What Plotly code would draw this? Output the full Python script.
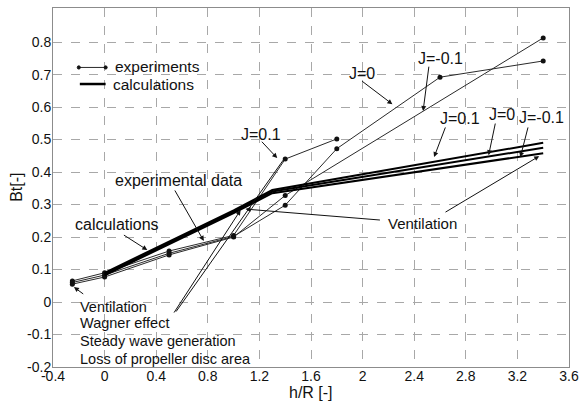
import plotly.graph_objects as go

# Experimental thrust-loss ratio Bt versus immersion h/R, one series per advance ratio J
exp_x_j01 = [-0.25, 0.0, 0.5, 1.0, 1.4, 1.8]
exp_y_j01 = [0.065, 0.090, 0.157, 0.205, 0.440, 0.502]

exp_x_j0 = [-0.25, 0.0, 0.5, 1.0, 1.4, 1.8, 2.6, 3.4]
exp_y_j0 = [0.060, 0.083, 0.150, 0.202, 0.298, 0.472, 0.692, 0.742]

exp_x_jm01 = [-0.25, 0.0, 0.5, 1.0, 1.4, 3.4]
exp_y_jm01 = [0.055, 0.077, 0.145, 0.200, 0.328, 0.813]

# Calculated curves
calc_x = [0.0, 0.5, 1.0, 1.3, 3.4]
calc_y_j01 = [0.090, 0.186, 0.282, 0.345, 0.490]
calc_y_j0 = [0.086, 0.182, 0.278, 0.340, 0.475]
calc_y_jm01 = [0.082, 0.178, 0.274, 0.335, 0.458]

x_ticks = [-0.4, 0, 0.4, 0.8, 1.2, 1.6, 2, 2.4, 2.8, 3.2, 3.6]
x_tick_labels = ["-0.4", "0", "0.4", "0.8", "1.2", "1.6", "2", "2.4", "2.8", "3.2", "3.6"]
y_ticks = [-0.2, -0.1, 0, 0.1, 0.2, 0.3, 0.4, 0.5, 0.6, 0.7, 0.8]
y_tick_labels = ["-0.2", "-0.1", "0", "0.1", "0.2", "0.3", "0.4", "0.5", "0.6", "0.7", "0.8"]

FONT = "Arial, Liberation Sans, sans-serif"
TXT = "#111111"

fig = go.Figure()

for xs, ys in [(exp_x_j01, exp_y_j01), (exp_x_j0, exp_y_j0), (exp_x_jm01, exp_y_jm01)]:
    fig.add_trace(go.Scatter(
        x=xs, y=ys, mode="lines+markers",
        line=dict(color="#2a2a2a", width=1),
        marker=dict(color="#111111", size=5),
        showlegend=False, cliponaxis=False,
    ))

for ys in [calc_y_j01, calc_y_j0, calc_y_jm01]:
    fig.add_trace(go.Scatter(
        x=calc_x, y=ys, mode="lines",
        line=dict(color="#000000", width=2),
        showlegend=False,
    ))

# Legend key drawn inside the axes
fig.add_shape(type="line", x0=-0.2, x1=0.008, y0=0.722, y1=0.722,
              line=dict(color="#2a2a2a", width=1))
for cx in (-0.2, 0.008):
    fig.add_shape(type="circle", x0=cx - 0.012, x1=cx + 0.012, y0=0.722 - 0.005, y1=0.722 + 0.005,
                  fillcolor="#111111", line=dict(color="#111111", width=1))
fig.add_shape(type="line", x0=-0.192, x1=0.008, y0=0.671, y1=0.671,
              line=dict(color="#000000", width=2.5))

annotations = []


def label(text, x, y, size=16, xanchor="center"):
    annotations.append(dict(text=text, x=x, y=y, xref="x", yref="y", showarrow=False,
                            xanchor=xanchor, yanchor="middle",
                            font=dict(family=FONT, size=size, color=TXT)))


def pointer(tail, head, head_style=2):
    annotations.append(dict(text="", x=head[0], y=head[1], ax=tail[0], ay=tail[1],
                            xref="x", yref="y", axref="x", ayref="y",
                            showarrow=True, arrowhead=head_style, arrowsize=1.0,
                            arrowwidth=1, arrowcolor="#111111", standoff=0, startstandoff=0))


label("experiments", 0.062, 0.724, size=15.5, xanchor="left")
label("calculations", 0.046, 0.669, size=15.5, xanchor="left")

label("experimental data", 0.569, 0.375)
pointer((0.538, 0.348), (0.769, 0.188))
label("calculations", 0.096, 0.24)
pointer((0.138, 0.209), (0.331, 0.160))

label("J=0.1", 1.212, 0.517)
pointer((1.208, 0.498), (1.338, 0.443))
label("J=0", 1.992, 0.703)
pointer((1.985, 0.683), (2.231, 0.609))
label("J=-0.1", 2.60, 0.749)
pointer((2.515, 0.729), (2.469, 0.588))

label("J=0.1", 2.754, 0.565)
pointer((2.646, 0.542), (2.554, 0.446))
label("J=0", 3.077, 0.578)
pointer((3.031, 0.554), (2.977, 0.452))
label("J=-0.1", 3.385, 0.567)
pointer((3.285, 0.542), (3.223, 0.446))

label("Ventilation", 2.462, 0.243, size=15)
pointer((2.146, 0.252), (1.092, 0.286))
pointer((2.631, 0.274), (3.369, 0.449))

for text, yy in [("Ventilation", -0.015), ("Wagner effect", -0.066),
                 ("Steady wave generation", -0.120), ("Loss of propeller disc area", -0.174)]:
    label(text, -0.208, yy, size=14.5, xanchor="left")
pointer((-0.154, 0.0215), (-0.238, 0.046))
pointer((0.531, -0.037), (1.054, 0.283))
pointer((0.546, -0.034), (1.385, 0.437), head_style=0)

# Axis titles
annotations.append(dict(text="h/R [-]", x=0.5, y=-0.072, xref="paper", yref="paper",
                        showarrow=False, xanchor="center", yanchor="middle",
                        font=dict(family=FONT, size=16, color=TXT)))
annotations.append(dict(text="Bt[-]", x=-0.071, y=0.5, xref="paper", yref="paper",
                        showarrow=False, xanchor="center", yanchor="middle", textangle=-90,
                        font=dict(family=FONT, size=16, color=TXT)))

axis_common = dict(
    showgrid=True, gridcolor="#a8a8a8", gridwidth=1, griddash="dash",
    showline=True, linecolor="#8c8c8c", linewidth=1, mirror=True,
    zeroline=False, ticks="", tickfont=dict(family=FONT, size=14, color=TXT),
)

fig.update_layout(
    width=586, height=408,
    margin=dict(l=53, r=13, t=7, b=41),
    paper_bgcolor="white", plot_bgcolor="white",
    showlegend=False,
    annotations=annotations,
    xaxis=dict(range=[-0.4, 3.6], tickvals=x_ticks, ticktext=x_tick_labels,
               ticklabelstandoff=-4, **axis_common),
    yaxis=dict(range=[-0.2, 0.905], tickvals=y_ticks, ticktext=y_tick_labels,
               ticklabelstandoff=-2, **axis_common),
)

fig.write_html("out.html")
